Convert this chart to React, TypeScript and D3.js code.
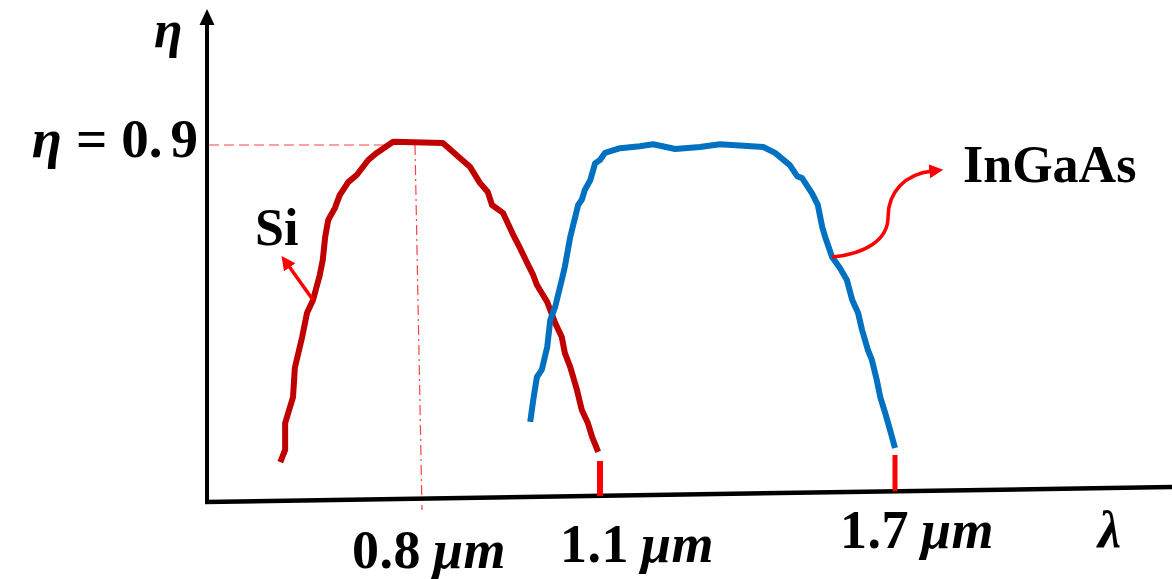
import React from "react";
import * as d3 from "d3";

// wavelength (µm) anchors of the hand-drawn axis
const tickWavelengths = [0.8, 1.1, 1.7];
const tickLabels = ["0.8", "1.1", "1.7"];
const peakEta = 0.9;

// Si quantum efficiency curve [λ (µm), η]
const siLambda = [0.573, 0.581, 0.581, 0.594, 0.597, 0.609, 0.617, 0.627, 0.638, 0.643, 0.647, 0.652, 0.663, 0.671, 0.685, 0.699, 0.718, 0.732, 0.759, 0.841, 0.869, 0.886, 0.902, 0.915, 0.922, 0.94, 0.957, 0.968, 0.98, 0.99, 0.996, 1.013, 1.026, 1.037, 1.042, 1.051, 1.062, 1.07, 1.08, 1.087, 1.097];
const siEta = [0.096, 0.127, 0.195, 0.261, 0.335, 0.413, 0.474, 0.507, 0.57, 0.608, 0.667, 0.71, 0.74, 0.773, 0.806, 0.824, 0.862, 0.88, 0.908, 0.905, 0.867, 0.844, 0.804, 0.781, 0.748, 0.728, 0.672, 0.639, 0.601, 0.57, 0.545, 0.502, 0.449, 0.413, 0.373, 0.337, 0.279, 0.228, 0.195, 0.16, 0.122];

// InGaAs quantum efficiency curve
const ingaasLambda = [0.985, 0.99, 0.996, 1.004, 1.013, 1.018, 1.026, 1.037, 1.042, 1.051, 1.059, 1.064, 1.07, 1.075, 1.084, 1.092, 1.1, 1.11, 1.141, 1.181, 1.208, 1.253, 1.303, 1.344, 1.432, 1.456, 1.486, 1.501, 1.511, 1.531, 1.543, 1.552, 1.558, 1.572, 1.588, 1.602, 1.613, 1.625, 1.633, 1.645, 1.653, 1.663, 1.67, 1.68, 1.69, 1.7];
const ingaasEta = [0.198, 0.254, 0.312, 0.33, 0.388, 0.456, 0.489, 0.558, 0.591, 0.667, 0.717, 0.748, 0.761, 0.786, 0.811, 0.854, 0.862, 0.88, 0.892, 0.897, 0.902, 0.89, 0.895, 0.902, 0.895, 0.88, 0.849, 0.821, 0.816, 0.778, 0.748, 0.692, 0.667, 0.616, 0.588, 0.558, 0.507, 0.474, 0.431, 0.38, 0.355, 0.304, 0.261, 0.221, 0.177, 0.132];

const siArrowFrom = [0.627, 0.507];
const ingaasArrowFrom = [1.572, 0.616];

const W = 1172;
const H = 579;
const RED_DARK = "#c00000";
const BLUE = "#0070c0";
const RED = "#ff0000";
const FONT = "'Liberation Serif', 'Times New Roman', serif";

export default function App() {
  const x = d3.scaleLinear().domain(tickWavelengths).range([418, 600, 895]);
  const y = d3.scaleLinear().domain([0, peakEta]).range([500, 145]);

  const line = d3
    .line<[number, number]>()
    .x((d) => x(d[0]))
    .y((d) => y(d[1]))
    .curve(d3.curveLinear);

  const siData = siLambda.map((l, i) => [l, siEta[i]] as [number, number]);
  const inData = ingaasLambda.map((l, i) => [l, ingaasEta[i]] as [number, number]);

  // tilted x-axis
  const axX0 = 207, axY0 = 502, axX1 = 1172, axY1 = 487;
  const axisYAt = (px: number) => axY0 + ((px - axX0) / (axX1 - axX0)) * (axY1 - axY0);

  const peakX = x(0.8);
  const peakY = y(peakEta);

  const siStart = [x(siArrowFrom[0]), y(siArrowFrom[1])];
  const inStart = [x(ingaasArrowFrom[0]), y(ingaasArrowFrom[1])];
  const sx = inStart[0], sy = inStart[1];
  const inPath = `M${sx},${sy} C${sx + 33},${sy - 3} ${sx + 56},${sy - 17} ${sx + 56},${sy - 40} C${sx + 56},${sy - 65} ${sx + 73},${sy - 83} ${sx + 100},${sy - 86}`;

  const tickLabel = (i: number, lx: number, ly: number) => (
    <text x={lx} y={ly} fontSize={54} fontWeight="bold" letterSpacing={0.5}>
      {tickLabels[i]}
      <tspan dx={12} fontStyle="italic">μm</tspan>
    </text>
  );

  return (
    <svg width={W} height={H} style={{ display: "block", position: "absolute", left: 0, top: 0 }} fontFamily={FONT}>
      <defs>
        <marker id="arrRed" viewBox="0 0 10 10" refX="2" refY="5" markerWidth="4" markerHeight="4" orient="auto" markerUnits="strokeWidth">
          <path d="M0,0 L10,5 L0,10 z" fill={RED} />
        </marker>
      </defs>
      <rect width={W} height={H} fill="#fff" />

      {/* dashed guide lines */}
      <line x1={209} y1={peakY} x2={393} y2={peakY} stroke={RED} strokeOpacity={0.75} strokeWidth={1.2} strokeDasharray="10,5" />
      <line x1={peakX - 3} y1={peakY} x2={peakX + 4} y2={510} stroke={RED} strokeOpacity={0.75} strokeWidth={1.2} strokeDasharray="10,4,2,4" />

      {/* axes */}
      <line x1={axX0} y1={504} x2={axX0} y2={22} stroke="#000" strokeWidth={4} />
      <path d={`M${axX0},9 L${axX0 - 7.5},25 L${axX0 + 7.5},25 Z`} fill="#000" />
      <line x1={axX0 - 2} y1={axY0} x2={axX1} y2={axY1} stroke="#000" strokeWidth={4.5} />

      {/* red cut-off ticks */}
      <line x1={x(1.1)} y1={461} x2={x(1.1)} y2={axisYAt(x(1.1))} stroke={RED} strokeWidth={6} />
      <line x1={x(1.7)} y1={455} x2={x(1.7)} y2={axisYAt(x(1.7))} stroke={RED} strokeWidth={5} />

      {/* curves */}
      <path d={line(siData) ?? ""} fill="none" stroke={RED_DARK} strokeWidth={6} strokeLinejoin="round" />
      <path d={line(inData) ?? ""} fill="none" stroke={BLUE} strokeWidth={6} strokeLinejoin="round" />

      {/* annotation arrows */}
      <line x1={siStart[0]} y1={siStart[1]} x2={siStart[0] - 25} y2={siStart[1] - 35} stroke={RED} strokeWidth={3.5} markerEnd="url(#arrRed)" />
      <path d={inPath} fill="none" stroke={RED} strokeWidth={3.5} markerEnd="url(#arrRed)" />

      {/* labels */}
      <text x={154} y={47} fontSize={52} fontWeight="bold" fontStyle="italic">η</text>
      <text x={198} y={157} fontSize={55} fontWeight="bold" textAnchor="end">
        <tspan fontStyle="italic">η</tspan>
        <tspan dx={14}>=</tspan>
        <tspan dx={14}>0.</tspan>
        <tspan dx={8}>9</tspan>
      </text>
      <text x={255} y={245} fontSize={52} fontWeight="bold">Si</text>
      <text x={963} y={182} fontSize={52} fontWeight="bold">InGaAs</text>

      {tickLabel(0, 352, 568)}
      {tickLabel(1, 560, 562)}
      {tickLabel(2, 840, 548)}
      <text x={1098} y={547} fontSize={52} fontWeight="bold" fontStyle="italic">λ</text>
    </svg>
  );
}
